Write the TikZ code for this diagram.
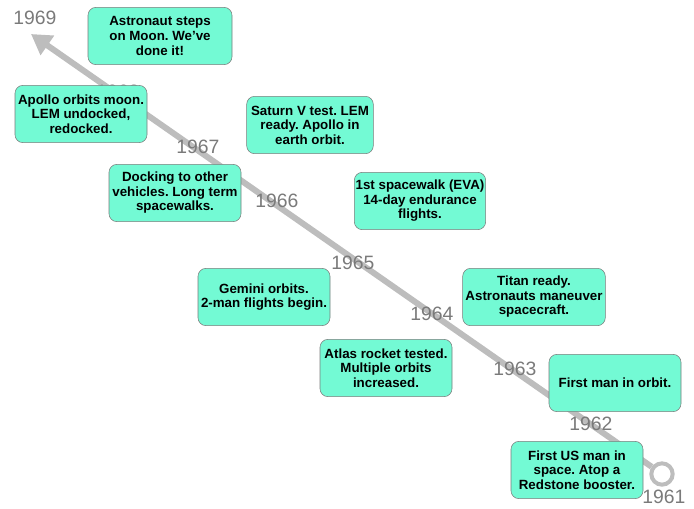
\documentclass[tikz,border=0pt]{standalone}
\usepackage{fontspec}
\setmainfont{Liberation Sans}
\usetikzlibrary{arrows.meta,positioning,shapes}
\definecolor{evfill}{HTML}{73FAD4}
\definecolor{lngray}{HTML}{BDBDBD}
\definecolor{yrgray}{HTML}{7A7A7A}
\tikzset{
    %Define style for event boxes
    evbox/.style={
           rectangle,
           rounded corners=6pt,
           draw=yrgray, thin,
           fill=evfill,
           minimum width=99pt,
           minimum height=43pt,
           align=center,
           inner sep=1pt,
           font=\fontsize{10}{10.9}\selectfont\bfseries},
    %Define style for year labels
    yearlbl/.style={
           text=yrgray,
           inner sep=0pt,
           font=\fontsize{14.5}{15}\selectfont},
    % Define timeline style
    tline/.style={
           -{Triangle[length=15pt,width=17pt]},
           draw=lngray,
           line width=4.5pt}
}
\frenchspacing
\begin{document}
\begin{tikzpicture}[x=0.75pt,y=-0.75pt]
    \useasboundingbox (0,0) rectangle (694,508);

    % TIMELINE
    \node[circle, draw=lngray, line width=3pt, fill=white, minimum size=16pt, inner sep=0pt] at (662,474) (start) {};
    \coordinate (tip) at (31,34);
    \draw[tline] (start) -- (tip);

    % YEARS
    \node[yearlbl] at (35,18) (y69) {1969};
    \node[yearlbl] at (118,92) (y68) {1968};
    \node[yearlbl] at (198,147) (y67) {1967};
    \node[yearlbl] at (277,201) (y66) {1966};
    \node[yearlbl] at (353,263) (y65) {1965};
    \node[yearlbl] at (432,314) (y64) {1964};
    \node[yearlbl] at (515,369) (y63) {1963};
    \node[yearlbl] at (591,424) (y62) {1962};
    \node[yearlbl] at (664,497) (y61) {1961};

    % EVENTS
    \node[evbox, minimum width=108pt] at (160,36) (moon) {Astronaut steps\\on Moon. We've\\done it!};
    \node[evbox] at (81,114) (orbmoon) {Apollo orbits moon.\\LEM undocked,\\redocked.};
    \node[evbox, minimum width=95pt] at (310,125) (saturn) {Saturn V test. LEM\\ready. Apollo in\\earth orbit.};
    \node[evbox] at (175,193) (docking) {Docking to other\\vehicles. Long term\\spacewalks.};
    \node[evbox, minimum width=98pt] at (420,201) (eva) {1st spacewalk (EVA)\\14-day endurance\\flights.};
    \node[evbox] at (264,297) (gemini) {Gemini orbits.\\2-man flights begin.};
    \node[evbox, minimum width=107pt] at (534,297) (titan) {Titan ready.\\Astronauts maneuver\\spacecraft.};
    \node[evbox] at (386,368) (atlas) {Atlas rocket tested.\\Multiple orbits\\increased.};
    \node[evbox] at (615,383) (orbit) {First man in orbit.};
    \node[evbox] at (577,470) (usman) {First US man in\\space. Atop a\\Redstone booster.};

\end{tikzpicture}
\end{document}
